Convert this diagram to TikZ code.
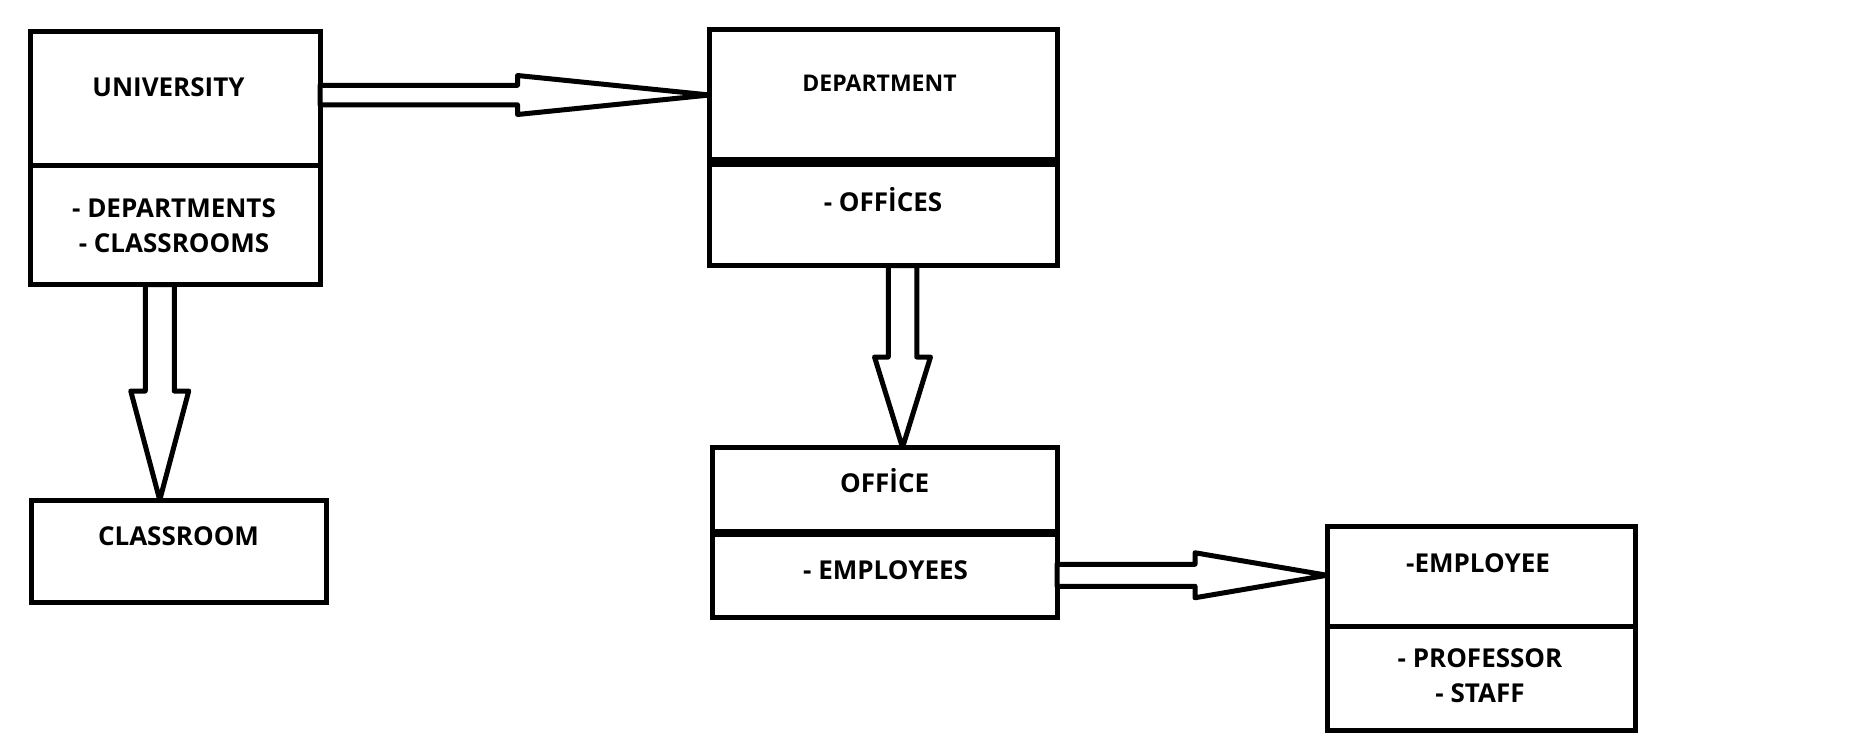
\documentclass[tikz,border=0pt]{standalone}
\usepackage{fontspec}
\setmainfont{Open Sans}
\usetikzlibrary{calc}

\tikzset{
  box/.style={draw, line width=5pt, rectangle, outer sep=0pt, inner sep=0pt},
  lbl/.style={font=\fontsize{26}{35.5}\selectfont\bfseries, align=center, inner sep=0pt},
  fat/.style={draw, line width=5pt, line join=round, fill=white},
}

% block arrow: start, tip, head length, shaft half width, head half width
\newcommand{\fatarrow}[5]{%
  \path (#1) coordinate (fa-s) (#2) coordinate (fa-t);
  \coordinate (fa-h) at ($(fa-t)!#3!(fa-s)$);
  \draw[fat] ($(fa-s)!#4!90:(fa-t)$) -- ($(fa-h)!#4!90:(fa-t)$) -- ($(fa-h)!#5!90:(fa-t)$) -- (fa-t)
    -- ($(fa-h)!#5!-90:(fa-t)$) -- ($(fa-h)!#4!-90:(fa-t)$) -- ($(fa-s)!#4!-90:(fa-t)$) -- cycle;
}

\begin{document}
\begin{tikzpicture}[x=1pt, y=-1pt]

    \useasboundingbox (0,0) rectangle (1862,742);

    % Boxes, two parts each
    \foreach \nom/\x/\y/\w/\h in {unitop/175.25/98/289.5/134, unibot/175.25/224.75/289.5/119.5,
        depttop/883.5/95.5/348/133, deptbot/883.5/213.75/348/103.5,
        classroom/179/551.25/295/102.5,
        officetop/884.5/490.25/345/85.5, officebot/884.5/575.25/345/84.5,
        emptop/1481/576.5/308/100, empbot/1481/678.5/308/104} {
        \node[box, minimum width=\w pt, minimum height=\h pt] (\nom) at (\x,\y) {};
    }

    % Thick dividers
    \draw[line width=10pt] (depttop.south west) -- (depttop.south east);
    \draw[line width=7.5pt] (officetop.south west) -- (officetop.south east);

    % Texts
    \node[lbl] (unitext) at (168.5,87.5) {UNIVERSITY};
    \node[lbl] (unilist) at (174,225.5) {- DEPARTMENTS\\- CLASSROOMS};
    \node[lbl, font=\fontsize{23}{28}\selectfont\bfseries] (depttext) at (879.5,83.3) {DEPARTMENT};
    \node[lbl, text height=18.6pt, text depth=0pt] (deptlist) at (883,202) {- OFFİCES};
    \node[lbl] (classtext) at (178.5,536.3) {CLASSROOM};
    \node[lbl, text height=18.6pt, text depth=0pt] (officetext) at (884.7,483) {OFFİCE};
    \node[lbl] (officelist) at (885.6,570.3) {- EMPLOYEES};
    \node[lbl] (emptext) at (1478,563.3) {-EMPLOYEE};
    \node[lbl] (emplist) at (1480,675.5) {- PROFESSOR\\- STAFF};

    % Block arrows between boxes
    \coordinate (a1) at ([yshift=3pt]unitop.east);
    \fatarrow{a1}{a1 -| depttop.west}{192pt}{9.75pt}{19.5pt}
    \coordinate (a2) at ([xshift=-15.5pt]unibot.south);
    \fatarrow{a2}{a2 |- classroom.north}{109pt}{14.5pt}{29pt}
    \coordinate (a3) at ([xshift=19pt]deptbot.south);
    \fatarrow{a3}{a3 |- officetop.north}{90.5pt}{14.25pt}{28pt}
    \coordinate (a4) at (officebot.east);
    \fatarrow{a4}{a4 -| emptop.west}{132pt}{11pt}{22.5pt}

\end{tikzpicture}
\end{document}
